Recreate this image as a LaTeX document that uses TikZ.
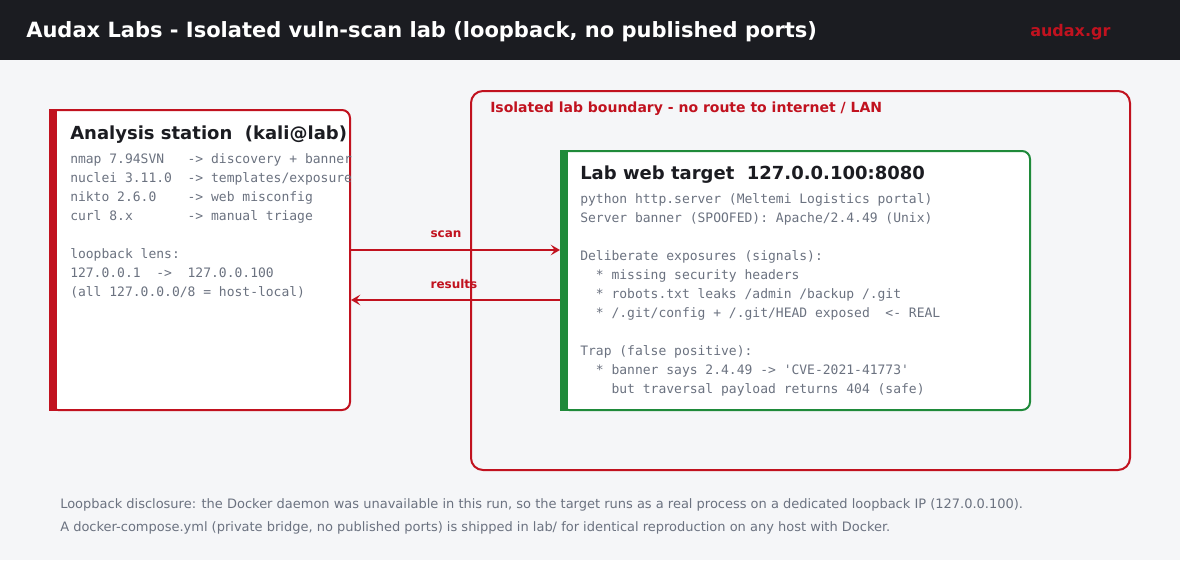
\documentclass[tikz,border=0pt]{standalone}
\usepackage{fontspec}
\setmainfont{DejaVu Sans}
\setmonofont{DejaVu Sans Mono}
\usetikzlibrary{arrows.meta}
\definecolor{hdr}{HTML}{1B1C21}
\definecolor{pagebg}{HTML}{F5F6F8}
\definecolor{audred}{HTML}{C1121F}
\definecolor{labgreen}{HTML}{1F8A3A}
\definecolor{monogray}{HTML}{6B7280}
\tikzset{
  panel/.style={draw=#1, line width=1.5pt, fill=white, rounded corners=6pt, inner sep=0pt},
  panelbar/.style={fill=#1, draw=none},
  paneltitle/.style={anchor=base west, inner sep=0pt, font=\bfseries\fontsize{13.5pt}{15pt}\selectfont, text=hdr},
  monotext/.style={anchor=north west, inner sep=0pt, align=left, text=monogray, font=\ttfamily\fontsize{9.75pt}{14.25pt}\selectfont},
  flow/.style={draw=audred, line width=1.5pt, -{Stealth[length=7pt, width=8pt, inset=3pt]}},
  flowlabel/.style={inner sep=0pt, anchor=base, text=audred, font=\bfseries\fontsize{9pt}{10pt}\selectfont},
  footnote/.style={anchor=base west, inner sep=0pt, text=monogray, font=\fontsize{9.74pt}{11pt}\selectfont}
}
\begin{document}
\begin{tikzpicture}[x=0.75pt, y=-0.75pt]
    \fill[pagebg] (0,0) rectangle (1180,560);
    \useasboundingbox (0,0) rectangle (1180,560);
    \fill[hdr] (0,0) rectangle (1180,60);
    \node[anchor=base west, inner sep=0pt, text=white, font=\bfseries\fontsize{15.75pt}{18pt}\selectfont] (title) at (26,38) {Audax Labs - Isolated vuln-scan lab (loopback, no published ports)};
    \node[anchor=base west, inner sep=0pt, text=audred, font=\bfseries\fontsize{12pt}{14pt}\selectfont] (brand) at (1030,37) {audax.gr};

    \node[draw=audred, line width=1.5pt, rounded corners=9pt, minimum width=494.25pt, minimum height=284.25pt] (boundary) at (800.5,280.5) {};
    \node[anchor=base west, inner sep=0pt, text=audred, font=\bfseries\fontsize{10.5pt}{12pt}\selectfont] (boundarylabel) at (490,112) {Isolated lab boundary - no route to internet / LAN};

    \node[panel=audred, minimum width=225pt, minimum height=225pt] (station) at (200,260) {};
    \fill[panelbar=audred] (station.north west) rectangle ([xshift=6pt]station.south west);
    \node[paneltitle] (stationtitle) at (70,139.5) {Analysis station\ \ (kali@lab)};
    \begin{scope}
        \clip (station.north west) rectangle (station.south east);
        \node[monotext] (stationtext) at (70,153) {nmap~7.94SVN~~~->~discovery~+~banner\\
nuclei~3.11.0~~->~templates/exposure\\
nikto~2.6.0~~~~->~web~misconfig\\
curl~8.x~~~~~~~->~manual~triage\\[14.25pt]
loopback~lens:\\
127.0.0.1~~->~~127.0.0.100\\
(all~127.0.0.0/8~=~host-local)};
    \end{scope}

    \node[panel=labgreen, minimum width=351.75pt, minimum height=194.25pt] (target) at (795.5,280.5) {};
    \fill[panelbar=labgreen] (target.north west) rectangle ([xshift=6pt]target.south west);
    \node[paneltitle] (targettitle) at (580,179) {Lab web target\ \ 127.0.0.100:8080};
    \node[monotext] (targettext) at (580,193) {python~http.server~(Meltemi~Logistics~portal)\\
Server~banner~(SPOOFED):~Apache/2.4.49~(Unix)\\[14.25pt]
Deliberate~exposures~(signals):\\
~~*~missing~security~headers\\
~~*~robots.txt~leaks~/admin~/backup~/.git\\
~~*~/.git/config~+~/.git/HEAD~exposed~~<-~REAL\\[14.25pt]
Trap~(false~positive):\\
~~*~banner~says~2.4.49~->~'CVE-2021-41773'\\
~~~~but~traversal~payload~returns~404~(safe)};

    \coordinate (scanrow) at (0,250);
    \coordinate (resultsrow) at (0,300);
    \draw[flow] (station.east |- scanrow) -- (target.west |- scanrow);
    \draw[flow] (target.west |- resultsrow) -- (station.east |- resultsrow);
    \node[flowlabel] (scanlabel) at (446,237) {scan};
    \node[flowlabel] (resultslabel) at (454,288) {results};

    \node[footnote] (note1) at (60,508) {Loopback disclosure: the Docker daemon was unavailable in this run, so the target runs as a real process on a dedicated loopback IP (127.0.0.100).};
    \node[footnote] (note2) at (60,531) {A docker-compose.yml (private bridge, no published ports) is shipped in lab/ for identical reproduction on any host with Docker.};
\end{tikzpicture}
\end{document}
